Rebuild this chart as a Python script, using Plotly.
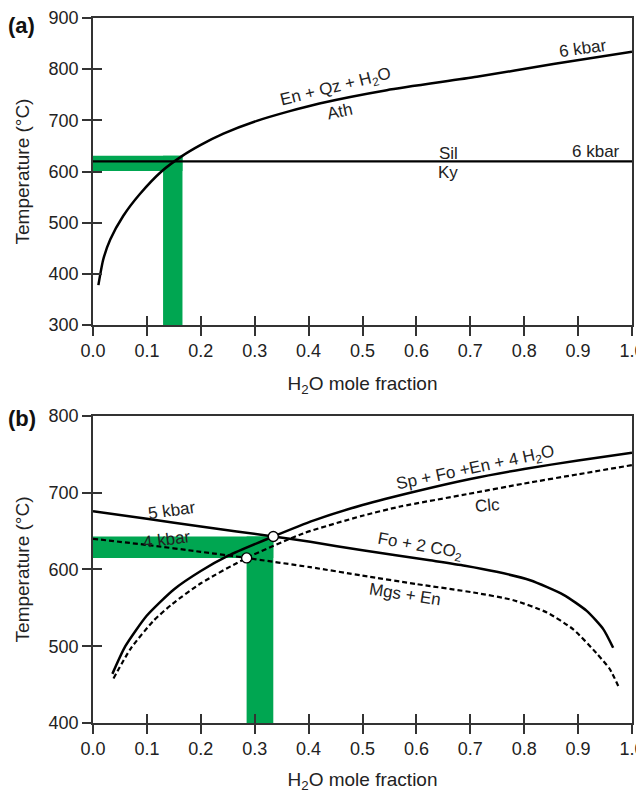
import plotly.graph_objects as go

# ---------------- data: panel (a) ----------------
a_ath_x = [0.01, 0.019, 0.032, 0.056, 0.087, 0.127, 0.165, 0.2, 0.242, 0.304, 0.365, 0.42, 0.545, 0.712, 0.854, 1.0]
a_ath_T = [378, 428, 467, 513, 556, 600, 630, 652, 674, 699, 718, 733, 759, 785, 810, 834]
a_silky_x = [0.0, 1.0]
a_silky_T = [620, 620]
a_hband_x = [0.0, 0.166]
a_hband_T = [601, 631]
a_vband_x = [0.13, 0.166]
a_vband_T = [300, 631]

# ---------------- data: panel (b) ----------------
b_clc5_x = [0.036, 0.06, 0.1, 0.15, 0.2, 0.251, 0.3345, 0.41, 0.5, 0.6, 0.7, 0.8, 0.9, 1.0]
b_clc5_T = [464, 500, 540, 574, 598, 618, 643, 664, 684, 702, 718, 731, 742, 752]
b_clc4_x = [0.038, 0.07, 0.112, 0.147, 0.2, 0.285, 0.39, 0.5, 0.57, 0.693, 0.8, 0.9, 1.0]
b_clc4_T = [458, 497, 533, 555, 582, 615, 647, 670, 682, 698, 712, 724, 736]
b_mgs5_x = [0.0, 0.1, 0.2, 0.3345, 0.403, 0.5, 0.625, 0.69, 0.749, 0.811, 0.873, 0.916, 0.947, 0.965]
b_mgs5_T = [676, 666, 656, 643, 636, 625, 612, 605, 597, 586, 567, 546, 522, 498]
b_mgs4_x = [0.0, 0.1, 0.2, 0.285, 0.403, 0.5, 0.6, 0.706, 0.78, 0.842, 0.891, 0.934, 0.959, 0.976]
b_mgs4_T = [640, 632, 623, 615, 603, 592, 581, 570, 560, 544, 522, 491, 470, 446]
b_points_x = [0.3345, 0.285]
b_points_T = [643, 615]
b_hband_x = [0.0, 0.3345]
b_hband_T = [615, 643]
b_vband_x = [0.285, 0.3345]
b_vband_T = [400, 643]

x_ticks = [round(0.1 * i, 1) for i in range(11)]
a_y_ticks = [300, 400, 500, 600, 700, 800, 900]
b_y_ticks = [400, 500, 600, 700, 800]

FONT = "Liberation Sans, Arial, Helvetica, sans-serif"
GREEN = "#00a651"
AX = "#333333"

fig = go.Figure()

def line(x, y, xa, ya, dash="solid", width=2.5):
    fig.add_trace(go.Scatter(x=x, y=y, xaxis=xa, yaxis=ya, mode="lines",
                             line=dict(color="black", width=width, dash=dash, shape="spline", smoothing=0.6),
                             showlegend=False, hoverinfo="skip"))

# green bands (shapes from data arrays)
for xa, ya, hx, hT, vx, vT in [("x", "y", a_hband_x, a_hband_T, a_vband_x, a_vband_T),
                               ("x2", "y2", b_hband_x, b_hband_T, b_vband_x, b_vband_T)]:
    fig.add_shape(type="rect", xref=xa, yref=ya, x0=hx[0], x1=hx[1], y0=hT[0], y1=hT[1],
                  fillcolor=GREEN, line=dict(width=0), layer="below")
    fig.add_shape(type="rect", xref=xa, yref=ya, x0=vx[0], x1=vx[1], y0=vT[0], y1=vT[1],
                  fillcolor=GREEN, line=dict(width=0), layer="below")

# panel (a)
line(a_ath_x, a_ath_T, "x", "y")
fig.add_trace(go.Scatter(x=a_silky_x, y=a_silky_T, xaxis="x", yaxis="y", mode="lines",
                         line=dict(color="black", width=2.2), showlegend=False, hoverinfo="skip"))

# panel (b)
line(b_clc5_x, b_clc5_T, "x2", "y2")
line(b_clc4_x, b_clc4_T, "x2", "y2", dash="5px,3px", width=2.2)
line(b_mgs5_x, b_mgs5_T, "x2", "y2")
line(b_mgs4_x, b_mgs4_T, "x2", "y2", dash="5px,3px", width=2.2)
fig.add_trace(go.Scatter(x=b_points_x, y=b_points_T, xaxis="x2", yaxis="y2", mode="markers",
                         marker=dict(size=10, color="white", line=dict(color="black", width=1.3)),
                         showlegend=False, hoverinfo="skip"))

# invisible traces to activate overlay axes (inside halves of crossing ticks)
fig.add_trace(go.Scatter(x=[None], y=[None], xaxis="x3", yaxis="y3", showlegend=False))
fig.add_trace(go.Scatter(x=[None], y=[None], xaxis="x4", yaxis="y4", showlegend=False))

TOP_DOM = [0.5645, 1.0]
BOT_DOM = [0.0, 0.4355]
tickfont = dict(family=FONT, size=18, color="#222")
titlefont = dict(family=FONT, size=19, color="#222")

def xaxis(anchor, title, standoff):
    return dict(range=[0, 1], tickvals=x_ticks, ticktext=[f"{v:.1f}" for v in x_ticks],
                ticks="outside", ticklen=9, tickwidth=1.5, tickcolor=AX,
                showline=True, linecolor=AX, linewidth=1.5, mirror=True,
                showgrid=False, zeroline=False, anchor=anchor, tickfont=tickfont,
                automargin=False, ticklabeloverflow="allow",
                title=dict(text=title, font=titlefont, standoff=standoff))

def yaxis(anchor, dom, rng, tv, title):
    return dict(range=rng, tickvals=tv, domain=dom,
                ticks="outside", ticklen=9, tickwidth=1.5, tickcolor=AX,
                showline=True, linecolor=AX, linewidth=1.5, mirror=True,
                showgrid=False, zeroline=False, anchor=anchor, tickfont=tickfont,
                automargin=False, ticklabeloverflow="allow",
                title=dict(text=title, font=titlefont, standoff=14))

def over_x(over, anchor):
    return dict(overlaying=over, matches=over, anchor=anchor, side="bottom", range=[0, 1],
                tickvals=x_ticks, ticks="inside", ticklen=9, tickwidth=1.5, tickcolor=AX,
                showticklabels=False, showline=False, showgrid=False, zeroline=False,
                automargin=False)

def over_y(over, anchor, rng, tv):
    return dict(overlaying=over, matches=over, anchor=anchor, side="left", range=rng,
                tickvals=tv, ticks="inside", ticklen=9, tickwidth=1.5, tickcolor=AX,
                showticklabels=False, showline=False, showgrid=False, zeroline=False,
                automargin=False)

h2o = "H<sub>2</sub>O mole fraction"
fig.update_layout(
    width=636, height=790,
    margin=dict(l=85, r=12, t=10, b=75, autoexpand=False),
    paper_bgcolor="white", plot_bgcolor="white",
    font=dict(family=FONT, color="#222"),
    xaxis=xaxis("y", h2o, 16),
    yaxis=yaxis("x", TOP_DOM, [300, 900], a_y_ticks, "Temperature (°C)"),
    xaxis2=xaxis("y2", h2o, 14),
    yaxis2=yaxis("x2", BOT_DOM, [400, 800], b_y_ticks, "Temperature (°C)"),
    xaxis3=over_x("x", "y3"),
    yaxis3=over_y("y", "x3", [300, 900], a_y_ticks),
    xaxis4=over_x("x2", "y4"),
    yaxis4=over_y("y2", "x4", [400, 800], b_y_ticks),
)

afont = dict(family=FONT, size=17, color="#222")
annos = [
    # panel (a)
    dict(x=0.45, y=764, xref="x", yref="y", text="En + Qz + H<sub>2</sub>O", textangle=-14),
    dict(x=0.458, y=718, xref="x", yref="y", text="Ath", textangle=-12),
    dict(x=0.909, y=841, xref="x", yref="y", text="6 kbar", textangle=-8),
    dict(x=0.659, y=636, xref="x", yref="y", text="Sil", textangle=0),
    dict(x=0.659, y=599, xref="x", yref="y", text="Ky", textangle=0),
    dict(x=0.933, y=640, xref="x", yref="y", text="6 kbar", textangle=0),
    # panel (b)
    dict(x=0.147, y=677, xref="x2", yref="y2", text="5 kbar", textangle=-8),
    dict(x=0.138, y=639, xref="x2", yref="y2", text="4 kbar", textangle=-7),
    dict(x=0.709, y=731, xref="x2", yref="y2", text="Sp + Fo +En + 4 H<sub>2</sub>O", textangle=-12),
    dict(x=0.731, y=683, xref="x2", yref="y2", text="Clc", textangle=-5),
    dict(x=0.607, y=629, xref="x2", yref="y2", text="Fo + 2 CO<sub>2</sub>", textangle=10),
    dict(x=0.579, y=568, xref="x2", yref="y2", text="Mgs + En", textangle=9),
]
for a in annos:
    fig.add_annotation(showarrow=False, font=afont, **a)

for lbl, yp in [("(a)", 0.990), ("(b)", 0.4326)]:
    fig.add_annotation(text=f"<b>{lbl}</b>", xref="paper", yref="paper", x=-0.132, y=yp,
                       showarrow=False, font=dict(family=FONT, size=22, color="#111"),
                       xanchor="center", yanchor="middle")

fig.write_html("out.html")
